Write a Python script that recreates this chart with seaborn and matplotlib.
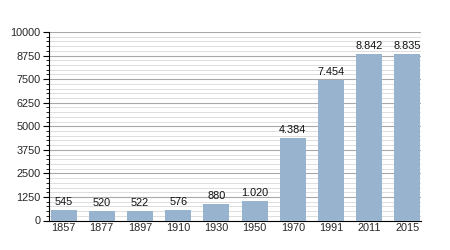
import matplotlib
matplotlib.use("Agg")
import matplotlib.pyplot as plt
from matplotlib.ticker import MultipleLocator
import seaborn as sns
import pandas as pd

years = ["1857", "1877", "1897", "1910", "1930", "1950", "1970", "1991", "2011", "2015"]
population = [545, 520, 522, 576, 880, 1020, 4384, 7454, 8842, 8835]
labels = ["545", "520", "522", "576", "880", "1.020", "4.384", "7.454", "8.842", "8.835"]

df = pd.DataFrame({"year": years, "pop": population})

sns.set_style("white")
plt.rcParams['font.family'] = ['Liberation Sans', 'DejaVu Sans']

fig = plt.figure(figsize=(4.5, 2.5), dpi=100)
ax = fig.add_axes([0.109, 0.118, 0.827, 0.754])

sns.barplot(data=df, x="year", y="pop", color="#98b3cd", saturation=1, width=0.68,
            linewidth=0, ax=ax, zorder=3)

ax.set_ylim(0, 10000)
ax.set_xlim(-0.38, 9.36)
ax.yaxis.set_major_locator(MultipleLocator(1250))
ax.yaxis.set_minor_locator(MultipleLocator(250))
ax.grid(which="major", axis="y", color="#a8a8a8", linewidth=0.8, zorder=0)
ax.grid(which="minor", axis="y", color="#d8d8d8", linewidth=0.6, zorder=0)
ax.set_axisbelow(True)

for s in ["top", "right"]:
    ax.spines[s].set_visible(False)
for s in ["left", "bottom"]:
    ax.spines[s].set_color("black")
    ax.spines[s].set_linewidth(0.8)

ax.tick_params(axis="y", which="major", length=4, width=0.8, color="black", labelsize=7.8, pad=2, left=True)
ax.tick_params(axis="y", which="minor", length=2.5, width=0.6, color="black", left=True)
ax.tick_params(axis="x", length=0, labelsize=7.8, pad=2)
ax.set_xlabel("")
ax.set_ylabel("")

for i, (v, t) in enumerate(zip(population, labels)):
    ax.text(i, v + 150, t, ha="center", va="bottom", fontsize=7.8, color="#111111")

fig.savefig("out.png", dpi=100)
